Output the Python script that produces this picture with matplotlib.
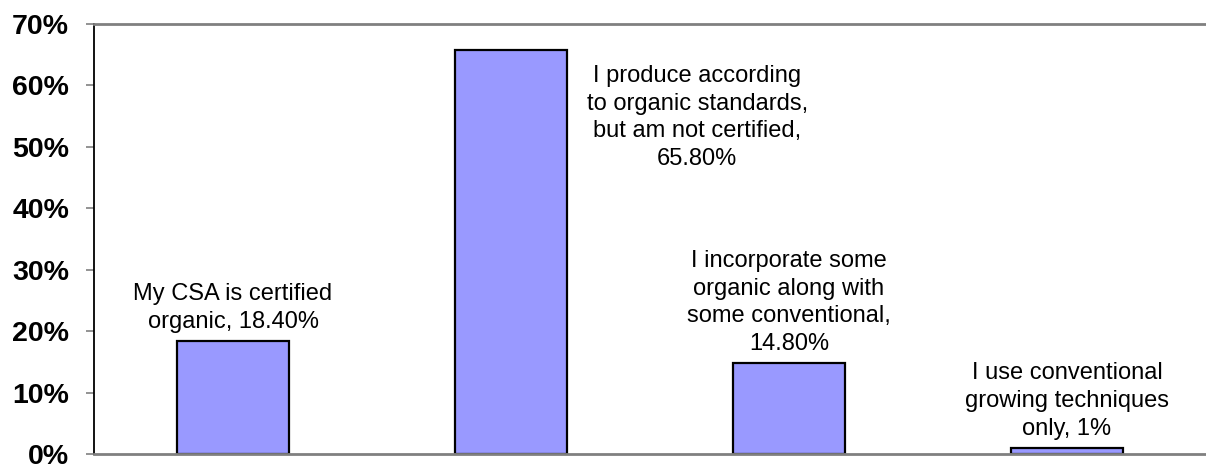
import matplotlib.pyplot as plt

plt.rcParams['font.family'] = ['Liberation Sans', 'DejaVu Sans']

categories = [
    "My CSA is certified\norganic, 18.40%",
    "I produce according\nto organic standards,\nbut am not certified,\n65.80%",
    "I incorporate some\norganic along with\nsome conventional,\n14.80%",
    "I use conventional\ngrowing techniques\nonly, 1%",
]
values = [18.4, 65.8, 14.8, 1.0]
yticks = [0, 10, 20, 30, 40, 50, 60, 70]

fig = plt.figure(figsize=(12.06, 4.66), dpi=100)
ax = fig.add_axes([94 / 1206, 12 / 466, 1 - 94 / 1206, 430 / 466])

x = range(len(values))
ax.bar(x, values, width=0.40, color='#9999FF', edgecolor='black', linewidth=1.6)

ax.set_xlim(-0.5, len(values) - 0.5)
ax.set_ylim(0, 70)
ax.set_yticks(yticks)
ax.set_yticklabels([f"{t}%" for t in yticks], fontsize=20.5, fontweight='bold')
ax.set_xticks([])
ax.tick_params(axis='y', length=6, width=1.2, color='#808080', pad=12)

ax.spines['right'].set_visible(False)
ax.spines['top'].set_color('#808080')
ax.spines['top'].set_linewidth(2)
ax.spines['bottom'].set_color('#808080')
ax.spines['bottom'].set_linewidth(2)
ax.spines['left'].set_color('black')
ax.spines['left'].set_linewidth(1.3)

for i, (lab, v) in enumerate(zip(categories, values)):
    if i == 1:
        # tall bar: label sits beside it
        ax.text(i + 0.67, v - 2.5, lab, ha='center', va='top', fontsize=17,
                linespacing=1.33)
    else:
        ax.annotate(lab, xy=(i, v), xytext=(0, 6), textcoords='offset points',
                    ha='center', va='bottom', fontsize=17, linespacing=1.33)

fig.savefig("out.png", dpi=100)
